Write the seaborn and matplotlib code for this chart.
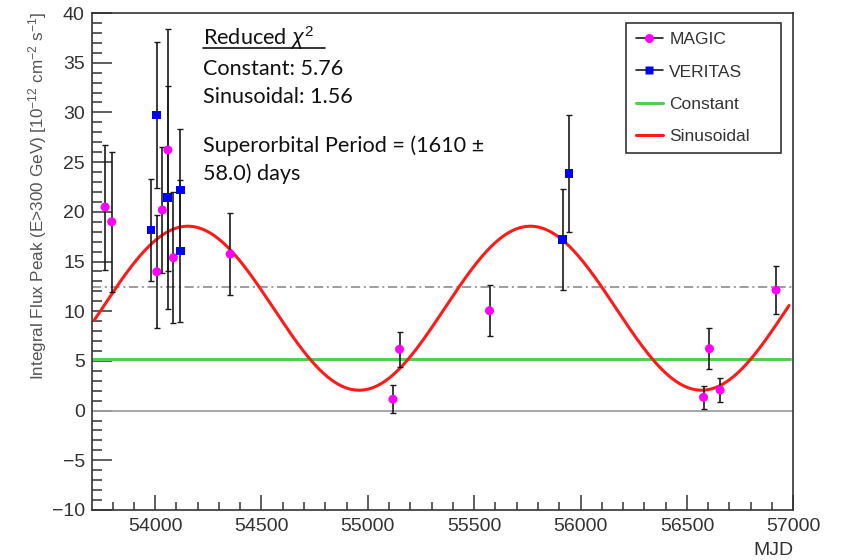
import numpy as np
import pandas as pd
import matplotlib
matplotlib.use("Agg")
import matplotlib.pyplot as plt
import seaborn as sns
from matplotlib.ticker import MultipleLocator
from matplotlib.lines import Line2D

# ---------------- data ----------------
magic_mjd = [53765, 53796, 54008, 54034, 54060, 54086, 54353,
             55118, 55149, 55572, 56578, 56606, 56656, 56919]
magic_flux = [20.48, 19.00, 13.97, 20.18, 26.22, 15.38, 15.75,
              1.14, 6.17, 10.05, 1.34, 6.23, 2.07, 12.13]
magic_err = [6.29, 7.04, 5.70, 6.29, 12.14, 6.59, 4.16,
             1.41, 1.74, 2.55, 1.14, 2.04, 1.18, 2.41]

veritas_mjd = [53981, 54008, 54060, 54118, 54118, 55916, 55946]
veritas_flux = [18.17, 29.74, 21.46, 22.19, 16.06, 17.23, 23.87]
veritas_err = [5.16, 7.37, 11.24, 6.14, 7.11, 5.06, 5.90]

# fit results
constant_level = 5.19
mean_level = 12.46
sin_offset = 10.30
sin_amplitude = 8.25
sin_period = 1610.0
sin_peak_mjd = 54154.0
fit_range = [53715, 56980]

x_ticks = [54000, 54500, 55000, 55500, 56000, 56500, 57000]
y_ticks = [-10, -5, 0, 5, 10, 15, 20, 25, 30, 35, 40]

# ---------------- style ----------------
sns.set_theme(style="white")
plt.rcParams["font.family"] = ["Liberation Sans", "DejaVu Sans"]
plt.rcParams["mathtext.fontset"] = "custom"
plt.rcParams["mathtext.rm"] = "Liberation Sans"
plt.rcParams["mathtext.it"] = "Liberation Sans:italic"

W, H = 843, 560
fig = plt.figure(figsize=(W / 100, H / 100), dpi=100)
L, R, T, B = 91.7, 793.3, 13, 510
ax = fig.add_axes([L / W, 1 - B / H, (R - L) / W, (B - T) / H])

# reference lines
ax.axhline(0, color="#a0a0a0", lw=1.3, zorder=1)
ax.axhline(mean_level, color="#8c8c8c", lw=1.2, dashes=(5.5, 2.2, 1.2, 2.2), zorder=1)

# fits
xs = np.linspace(fit_range[0], fit_range[1], 600)
sin_df = pd.DataFrame({"mjd": xs,
                       "flux": sin_offset + sin_amplitude * np.cos(2 * np.pi * (xs - sin_peak_mjd) / sin_period)})
const_df = pd.DataFrame({"mjd": [53702, 56985], "flux": [constant_level, constant_level]})
sns.lineplot(data=const_df, x="mjd", y="flux", color="#55cc55", lw=2.2, ax=ax, zorder=2)
sns.lineplot(data=sin_df, x="mjd", y="flux", color="#ff1a1a", lw=2.2, ax=ax, zorder=3)

# error bars
ax.errorbar(magic_mjd, magic_flux, yerr=magic_err, fmt="none", ecolor="#1a1a1a",
            elinewidth=1.2, capsize=2.5, capthick=1.0, zorder=4)
ax.errorbar(veritas_mjd, veritas_flux, yerr=veritas_err, fmt="none", ecolor="#1a1a1a",
            elinewidth=1.2, capsize=2.5, capthick=1.0, zorder=4)

# points
mdf = pd.DataFrame({"mjd": magic_mjd, "flux": magic_flux})
vdf = pd.DataFrame({"mjd": veritas_mjd, "flux": veritas_flux})
sns.scatterplot(data=mdf, x="mjd", y="flux", color="#ff00ff", marker="o", s=42,
                edgecolor="none", ax=ax, zorder=5)
sns.scatterplot(data=vdf, x="mjd", y="flux", color="#0000ff", marker="s", s=40,
                edgecolor="none", ax=ax, zorder=5)

# axes
ax.set_xlim(53702, 57000)
ax.set_ylim(-10, 40)
ax.set_xticks(x_ticks)
ax.set_yticks(y_ticks)
ax.xaxis.set_minor_locator(MultipleLocator(100))
ax.yaxis.set_minor_locator(MultipleLocator(1))
ax.tick_params(axis="both", which="both", direction="in", colors="#333333",
               labelcolor="#333333", labelsize=14, top=False, right=False,
               left=True, bottom=True)
ax.tick_params(axis="y", which="major", length=14.5, width=1.1, pad=5)
ax.tick_params(axis="y", which="minor", length=7.2, width=1.1)
ax.tick_params(axis="x", which="major", length=10.8, width=1.1, pad=6)
ax.tick_params(axis="x", which="minor", length=5.8, width=1.1)
ax.set_xlabel("")
ax.set_ylabel("")
for s in ax.spines.values():
    s.set_color("#333333")
    s.set_linewidth(1.2)
    s.set_visible(True)

fig.text(38 / W, 1 - 12 / H,
         "Integral Flux Peak (E>300 GeV) [10$^{-12}$ cm$^{-2}$ s$^{-1}$]",
         rotation=90, ha="center", va="top", fontsize=12.3, color="#555555")
fig.text(R / W, 1 - 555 / H, "MJD", ha="right", va="baseline", fontsize=14, color="#333333")

# annotation text
tfont = dict(family=["Lato", "DejaVu Sans"], fontsize=15.6, color="#111111")
lines = [("Reduced $\\chi^2$", 45), ("Constant: 5.76", 75), ("Sinusoidal: 1.56", 103.3),
         ("Superorbital Period = (1610 \u00b1", 151.7), ("58.0) days", 180)]
for txt, yb in lines:
    fig.text(203 / W, 1 - yb / H, txt, ha="left", va="baseline", **tfont)
fig.add_artist(Line2D([203 / W, 325 / W], [1 - 48 / H, 1 - 48 / H], color="#111111", lw=1.2))

# legend
handles = [
    Line2D([], [], color="#1a1a1a", lw=1.2, marker="o", markerfacecolor="#ff00ff",
           markeredgecolor="none", markersize=6.5),
    Line2D([], [], color="#1a1a1a", lw=1.2, marker="s", markerfacecolor="#0000ff",
           markeredgecolor="none", markersize=6),
    Line2D([], [], color="#55cc55", lw=2.2),
    Line2D([], [], color="#ff1a1a", lw=2.2),
]
labels = ["MAGIC", "VERITAS", "Constant", "Sinusoidal"]
leg = fig.legend(handles, labels, loc="upper left",
                 bbox_to_anchor=(626 / W, 1 - 150.7 / H, (780.7 - 626) / W, (150.7 - 22.7) / H),
                 mode="expand", borderaxespad=0, fancybox=False, frameon=True,
                 fontsize=12.5, handlelength=1.6, handletextpad=0.35, labelspacing=0.98,
                 borderpad=0.55, labelcolor="#333333")
leg.get_frame().set_edgecolor("#333333")
leg.get_frame().set_linewidth(1.2)
leg.get_frame().set_alpha(1)

fig.savefig("out.png", dpi=100)
